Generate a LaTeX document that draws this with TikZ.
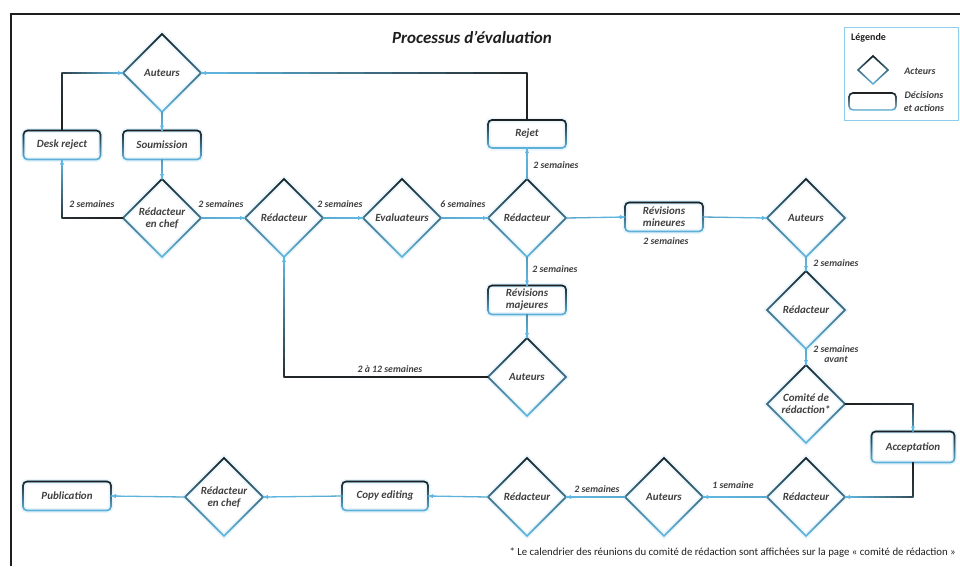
\documentclass[tikz,border=0pt]{standalone}
\usepackage{fontspec}
\setmainfont{Carlito}
\usetikzlibrary{shapes.geometric,arrows.meta,calc,fadings}
\definecolor{bl}{RGB}{96,184,226}
\definecolor{dk}{RGB}{30,30,30}
\tikzfading[name=dfade, top color=transparent!0, middle color=transparent!60, bottom color=transparent!100]
\tikzfading[name=rfade, top color=transparent!0, middle color=transparent!50, bottom color=transparent!100]
\tikzset{
  lbl/.style={font=\fontsize{11}{12}\selectfont\bfseries\itshape, text=dk!85},
  halo/.style={preaction={draw=bl!14, line width=5pt}},
  dia/.style={lbl, shape=diamond, draw=bl, line width=1.6pt, minimum width=78pt, minimum height=78pt, inner sep=0pt, outer sep=0pt, align=center, halo},
  box/.style={lbl, shape=rectangle, rounded corners=4pt, draw=bl, line width=1.6pt, minimum width=78pt, minimum height=29pt, inner sep=2pt, outer sep=0pt, align=center, halo},
  dkline/.style={draw=dk, line width=1.6pt},
  seg/.style={line width=1.3pt, line cap=round},
  arr/.style={draw=bl, line width=1.3pt, -{Latex[length=5pt,width=4.5pt]}},
  elab/.style={font=\fontsize{9.8}{11}\selectfont\bfseries\itshape, text=dk!85, inner sep=0pt, align=center},
}
% gradient segment: from #1 to #2, dark percentage #3 -> #4
\newcommand\gseg[4]{%
  \foreach \i in {0,...,11}{%
    \pgfmathsetmacro\gsa{\i/12}%
    \pgfmathsetmacro\gsb{(\i+1)/12}%
    \pgfmathtruncatemacro\gsc{#3+(#4-#3)*(\i+0.5)/12}%
    \draw[seg, draw=dk!\gsc!bl] ($(#1)!\gsa!(#2)$) -- ($(#1)!\gsb!(#2)$);
  }}
\newcommand\garrow[4]{%
  \gseg{#1}{#2}{#3}{#4}%
  \draw[arr] ($(#2)!6pt!(#1)$) -- (#2);}
\begin{document}
\begin{tikzpicture}[x=1pt,y=-1pt]
\useasboundingbox (0,0) rectangle (960,566);
% frame
\coordinate (fa) at (11,566);
\coordinate (fb) at (11,14);
\coordinate (fc) at (960,14);
\draw[dk, line width=2.2pt] (fa) -- (fb) -- (fc);
% title
\node[font=\fontsize{17}{20}\selectfont\bfseries\itshape, text=dk] (title) at (472,37) {Processus d’évaluation};
% nodes
\node[dia] (au1) at (162,73) {Auteurs};
\node[box] (soum) at (162,145) {Soumission};
\node[box, minimum width=77pt] (dr) at (62,145) {Desk reject};
\node[dia] (rc1) at (162,218) {Rédacteur\\en chef};
\node[dia] (red2) at (284,218) {Rédacteur};
\node[dia] (eva) at (402,218) {Evaluateurs};
\node[dia] (red3) at (527,218) {Rédacteur};
\node[box, minimum height=28pt] (rej) at (527,134) {Rejet};
\node[box] (rmin) at (664,217) {Révisions\\mineures};
\node[dia] (au2) at (806,218) {Auteurs};
\node[dia] (red4) at (806,310) {Rédacteur};
\node[dia] (com) at (806,404) {Comité de\\rédaction*};
\node[box, minimum width=83pt, minimum height=31pt] (acc) at (913,447) {Acceptation};
\node[box] (rmaj) at (527,300) {Révisions\\majeures};
\node[dia] (au4) at (527,377) {Auteurs};
\node[dia] (red5) at (806,497) {Rédacteur};
\node[dia] (au3) at (664,497) {Auteurs};
\node[dia] (red6) at (527,497) {Rédacteur};
\node[box, minimum width=86pt] (copy) at (385,496) {Copy editing};
\node[dia] (rc2) at (224,497) {Rédacteur\\en chef};
\node[box, minimum width=88pt] (pub) at (67,496) {Publication};
% legend
\node[draw=bl!70, line width=1pt, minimum width=114pt, minimum height=93pt, inner sep=0pt] (leg) at (901,73.5) {};
\node[font=\fontsize{10}{12}\selectfont\bfseries, text=dk, anchor=west, inner sep=0pt] (legt) at (851,38) {Légende};
\node[shape=diamond, draw=bl, line width=1.4pt, minimum width=30pt, minimum height=28pt, inner sep=0pt, outer sep=0pt] (ldia) at (873,70) {};
\node[shape=rectangle, rounded corners=4pt, draw=bl, line width=1.4pt, minimum width=47pt, minimum height=17pt, inner sep=0pt, outer sep=0pt] (lbox) at (872.5,101.5) {};
\node[elab, font=\fontsize{10}{12}\selectfont\bfseries\itshape] (lact) at (920,71) {Acteurs};
\node[elab, font=\fontsize{10}{13}\selectfont\bfseries\itshape] (ldec) at (924,102) {Décisions\\et actions};
% gradient overlays on shapes
\foreach \n in {au1,rc1,red2,eva,red3,au2,red4,com,au4,red5,au3,red6,rc2,ldia}
  \draw[dkline, path fading=dfade] (\n.north) -- (\n.east) -- (\n.south) -- (\n.west) -- cycle;
\foreach \n in {soum,dr,rej,rmin,acc,rmaj,copy,pub,lbox}
  \draw[dkline, rounded corners=4pt, path fading=rfade] (\n.north west) rectangle (\n.south east);
% elbow coordinates
\coordinate (c3) at (dr.south |- rc1.west);
\coordinate (c4) at (dr.north |- au1.west);
\coordinate (c9) at (rej.north |- au1.east);
\coordinate (c14) at (acc.north |- com.east);
\coordinate (c15) at (acc.south |- red5.east);
\coordinate (c23) at (red2.south |- au4.west);
% connectors
\garrow{au1.south}{soum.north}{20}{0}
\garrow{soum.south}{rc1.north}{20}{0}
\gseg{rc1.west}{c3}{100}{90}
\garrow{c3}{dr.south}{85}{0}
\gseg{dr.north}{c4}{100}{85}
\garrow{c4}{au1.west}{80}{0}
\garrow{rc1.east}{red2.west}{10}{0}
\garrow{red2.east}{eva.west}{10}{0}
\garrow{eva.east}{red3.west}{10}{0}
\garrow{red3.north}{rej.south}{10}{0}
\gseg{rej.north}{c9}{100}{95}
\garrow{c9}{au1.east}{95}{0}
\garrow{red3.east}{rmin.west}{15}{0}
\garrow{rmin.east}{au2.west}{15}{0}
\garrow{au2.south}{red4.north}{10}{0}
\garrow{red4.south}{com.north}{10}{0}
\gseg{com.east}{c14}{100}{90}
\garrow{c14}{acc.north}{85}{20}
\gseg{acc.south}{c15}{100}{80}
\garrow{c15}{red5.east}{70}{0}
\garrow{red5.west}{au3.east}{10}{0}
\garrow{au3.west}{red6.east}{10}{0}
\garrow{red6.west}{copy.east}{10}{0}
\garrow{copy.west}{rc2.east}{10}{0}
\garrow{rc2.west}{pub.east}{10}{0}
\garrow{red3.south}{rmaj.north}{20}{0}
\garrow{rmaj.south}{au4.north}{30}{0}
\gseg{au4.west}{c23}{100}{95}
\garrow{c23}{red2.south}{90}{0}
% edge labels
\node[elab] (l1) at (92,204) {2 semaines};
\node[elab] (l2) at (221,204) {2 semaines};
\node[elab] (l3) at (340,204) {2 semaines};
\node[elab] (l4) at (463,204) {6 semaines};
\node[elab] (l5) at (556,165) {2 semaines};
\node[elab] (l6) at (555,269) {2 semaines};
\node[elab] (l7) at (666,241) {2 semaines};
\node[elab] (l8) at (836,263) {2 semaines};
\node[elab, font=\fontsize{9.8}{10.5}\selectfont\bfseries\itshape] (l9) at (836,354) {2 semaines\\avant};
\node[elab] (l10) at (733,485) {1 semaine};
\node[elab] (l11) at (597,489) {2 semaines};
\node[elab] (l12) at (390,369) {2 à 12 semaines};
% footnote
\node[font=\fontsize{10.8}{12}\selectfont, text=dk, anchor=east, inner sep=0pt] (foot) at (956,553) {* Le calendrier des réunions du comité de rédaction sont affichées sur la page « comité de rédaction »};
\end{tikzpicture}
\end{document}
